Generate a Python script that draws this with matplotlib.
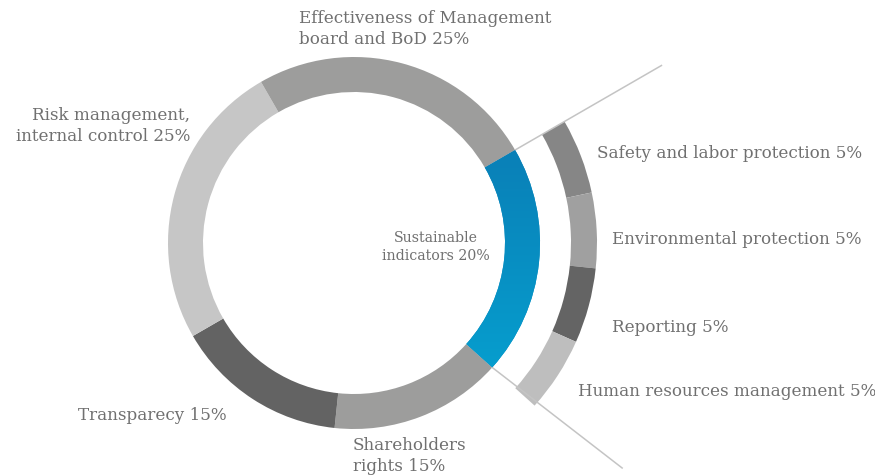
import numpy as np
import matplotlib
matplotlib.use("Agg")
import matplotlib.pyplot as plt
from matplotlib.colors import LinearSegmentedColormap

# ---- data ----
main_labels = ["Sustainable\nindicators 20%", "Shareholders\nrights 15%", "Transparecy 15%",
               "Risk management,\ninternal control 25%", "Effectiveness of Management\nboard and BoD 25%"]
main_values = [20, 15, 15, 25, 25]
main_colors = ["#0a8cc2", "#9d9d9c", "#636363", "#c6c6c6", "#9d9d9c"]

sub_labels = ["Safety and labor protection 5%", "Environmental protection 5%",
              "Reporting 5%", "Human resources management 5%"]
sub_values = [5, 5, 5, 5]
sub_colors = ["#868686", "#a0a0a0", "#646464", "#bebebe"]

W, H = 875, 476
fig = plt.figure(figsize=(W / 100, H / 100), dpi=100)
ax = fig.add_axes([0, 0, 1, 1])

cx, cy = 354, H - 243
R, w = 186, 35
R2, w2 = 243, 26
start = 30

wedges, _ = ax.pie(main_values, radius=R, center=(cx, cy), startangle=start, counterclock=False,
                   colors=main_colors, wedgeprops=dict(width=w, edgecolor="none", linewidth=0))

# gradient for the blue segment
blue = wedges[0]
cmap = LinearSegmentedColormap.from_list("bl", ["#0a7db5", "#05a6d4"])
grad = np.linspace(0, 1, 256).reshape(-1, 1)
im = ax.imshow(grad, cmap=cmap, extent=(cx, cx + R + 5, cy - R, cy + R * 0.6),
               origin="upper", aspect="auto", zorder=2)
im.set_clip_path(blue)

sub_wedges, _ = ax.pie([v / 100 for v in sub_values], normalize=False, radius=R2, center=(cx, cy),
                       startangle=start, counterclock=False, colors=sub_colors,
                       wedgeprops=dict(width=w2, edgecolor="none", linewidth=0))

# connector lines from the blue segment edges
total = sum(main_values)
a1 = np.deg2rad(start)
a2 = np.deg2rad(start - 360 * main_values[0] / total)
for a, ae, rend in [(a1, a1, 355), (a2, a2 + np.deg2rad(2), 350)]:
    ax.plot([cx + R * np.cos(a), cx + rend * np.cos(ae)],
            [cy + R * np.sin(a), cy + rend * np.sin(ae)], color="#c4c4c4", lw=1.1, zorder=1)

ax.set_xlim(0, W)
ax.set_ylim(0, H)
ax.set_aspect("equal")
ax.axis("off")

fam = "DejaVu Serif"
tc = "#707070"
fs = 12.1
ls = 1.28

def T(x, y, s, ha="left", size=fs):
    ax.text(x, H - y, s, ha=ha, va="center", fontsize=size, color=tc, family=fam, linespacing=ls)

T(299, 29, main_labels[4])
T(190, 126, main_labels[3], ha="right")
T(227, 416, main_labels[2], ha="right")
T(353, 456, main_labels[1])
T(436, 247, main_labels[0], ha="center", size=10.2)

T(597, 153, sub_labels[0])
T(612, 240, sub_labels[1])
T(612, 327, sub_labels[2])
T(578, 392, sub_labels[3])

fig.savefig("out.png", dpi=100)
